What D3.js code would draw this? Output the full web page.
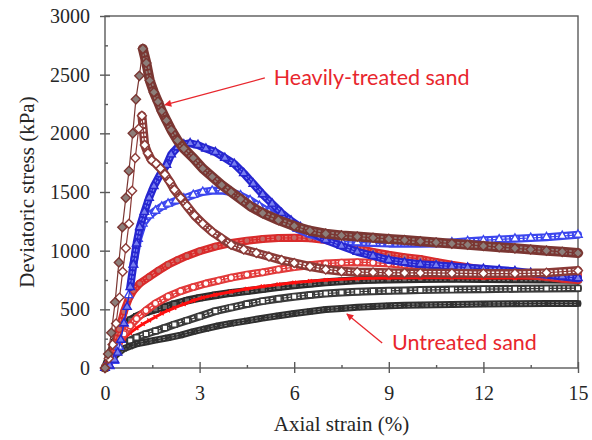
<!DOCTYPE html>
<html>
<head>
<meta charset="utf-8">
<script src="https://cdn.jsdelivr.net/npm/d3@7"></script>
<style>
  body { margin: 0; background: #fff; }
  svg { display: block; }
  .serif { font-family: "Liberation Serif", "DejaVu Serif", "Times New Roman", serif; }
</style>
</head>
<body>
<div id="chart"></div>
<script>
// Triaxial curves: deviatoric stress (kPa) vs axial strain (%)
var strainTicks = [0, 3, 6, 9, 12, 15];
var strainMinor = [1.5, 4.5, 7.5, 10.5, 13.5];
var stressTicks = [0, 500, 1000, 1500, 2000, 2500, 3000];
var stressMinor = [250, 750, 1250, 1750, 2250, 2750];

// [strain %, stress kPa]
var heavyFilled = [[0,0],[0.1,120],[0.2,300],[0.32,560],[0.44,900],[0.55,1200],[0.66,1450],[0.76,1680],[0.88,2000],[0.98,2290],[1.09,2490],[1.2,2720],[1.31,2600],[1.42,2450],[1.55,2350],[1.68,2270],[1.8,2190],[1.95,2110],[2.1,2030],[2.3,1940],[2.5,1870],[2.8,1790],[3.1,1700],[3.4,1630],[3.7,1560],[4.0,1500],[4.3,1440],[4.6,1380],[5.0,1320],[5.5,1260],[6.0,1210],[6.5,1170],[7.0,1145],[7.5,1130],[8.0,1120],[8.5,1110],[9.0,1100],[9.5,1090],[10,1080],[10.5,1070],[11,1060],[11.5,1050],[12,1040],[12.5,1030],[13,1020],[13.5,1010],[14,1000],[14.5,990],[15,980]];
var heavyOpen = [[0,0],[0.12,80],[0.24,200],[0.35,380],[0.46,600],[0.56,820],[0.66,1020],[0.76,1230],[0.86,1510],[0.96,1790],[1.07,2040],[1.17,2150],[1.26,1900],[1.36,1830],[1.48,1770],[1.62,1740],[1.76,1700],[1.9,1650],[2.05,1590],[2.2,1520],[2.4,1450],[2.6,1380],[2.84,1300],[3.1,1230],[3.4,1160],[3.7,1105],[4.0,1050],[4.4,1010],[4.8,980],[5.2,950],[5.6,920],[6.0,895],[6.5,865],[7.0,840],[7.5,825],[8.0,818],[8.5,815],[9,812],[9.5,810],[10,810],[11,808],[12,805],[13,805],[14,812],[15,830]];
var blueFilled = [[0,0],[0.15,20],[0.3,70],[0.4,130],[0.5,240],[0.6,380],[0.7,520],[0.8,690],[0.9,880],[1.0,1060],[1.1,1200],[1.25,1330],[1.4,1450],[1.55,1550],[1.75,1650],[1.95,1730],[2.1,1820],[2.3,1880],[2.5,1905],[2.7,1915],[2.95,1900],[3.2,1870],[3.5,1840],[3.8,1790],[4.1,1740],[4.4,1660],[4.7,1570],[5.0,1480],[5.3,1400],[5.6,1320],[5.9,1255],[6.2,1200],[6.6,1150],[7.0,1090],[7.5,1040],[8.0,990],[8.5,955],[9.0,920],[9.5,900],[10,885],[10.5,875],[11,865],[11.5,855],[12,845],[12.5,835],[13,825],[13.5,810],[14,795],[14.5,780],[15,765]];
var blueOpen = [[0,0],[0.15,15],[0.3,60],[0.45,180],[0.6,380],[0.75,620],[0.9,880],[1.05,1100],[1.2,1230],[1.4,1300],[1.6,1340],[1.8,1375],[2.0,1400],[2.25,1425],[2.5,1445],[2.8,1475],[3.1,1500],[3.4,1510],[3.7,1512],[4.0,1500],[4.3,1470],[4.6,1430],[4.9,1380],[5.2,1330],[5.5,1280],[5.8,1230],[6.1,1185],[6.5,1140],[7.0,1100],[7.5,1080],[8.0,1070],[8.5,1065],[9.0,1060],[9.5,1060],[10,1058],[10.5,1062],[11,1070],[11.5,1080],[12,1088],[12.5,1096],[13,1102],[13.5,1108],[14,1115],[14.5,1125],[15,1135]];
var redFilled = [[0,0],[0.15,60],[0.3,180],[0.45,330],[0.6,480],[0.75,590],[0.9,660],[1.1,720],[1.4,775],[1.7,830],[2.0,880],[2.3,920],[2.6,955],[3.0,995],[3.5,1035],[4.0,1065],[4.5,1085],[5.0,1100],[5.5,1108],[6.0,1110],[6.5,1105],[7.0,1090],[7.5,1060],[8.0,1020],[8.5,990],[9.0,965],[9.5,945],[10,930],[10.5,905],[11,880],[11.5,860],[12,840],[12.5,820],[13,805],[13.5,790],[14,775],[14.5,760],[15,750]];
var redOpen = [[0,0],[0.15,50],[0.3,130],[0.45,220],[0.6,290],[0.8,360],[1.0,420],[1.3,490],[1.6,550],[2.0,610],[2.4,655],[2.8,690],[3.2,720],[3.6,745],[4.0,770],[4.5,795],[5.0,815],[5.5,840],[6.0,860],[6.5,875],[7.0,890],[7.5,898],[8.0,902],[8.5,898],[9.0,890],[9.5,878],[10,865],[10.5,850],[11,838],[11.5,825],[12,815],[12.5,808],[13,802],[13.5,798],[14,795],[14.5,792],[15,790]];
var redCross = [[0,0],[0.2,80],[0.4,170],[0.6,250],[0.8,300],[1.0,340],[1.2,375],[1.4,405],[1.6,435],[1.8,465],[2.0,490],[2.2,513],[2.5,545],[2.8,575],[3.1,600],[3.5,625],[4,650],[4.5,675],[5,695],[5.5,712],[6,728],[6.5,740],[7,750],[8,762],[9,768],[10,770],[11,770],[12,768],[13,766],[14,764],[15,762]];
var blackFilled = [[0,0],[0.15,110],[0.3,220],[0.45,300],[0.6,360],[0.8,410],[1.0,440],[1.3,475],[1.6,500],[1.9,520],[2.2,545],[2.6,575],[3.0,598],[3.5,620],[4.0,640],[4.5,655],[5.0,672],[5.5,690],[6.0,705],[6.5,718],[7.0,730],[7.5,740],[8.0,748],[8.5,752],[9,755],[9.5,757],[10,758],[11,760],[12,758],[13,756],[14,754],[15,752]];
var blackOpen = [[0,0],[0.15,70],[0.3,130],[0.45,170],[0.6,200],[0.8,235],[1.0,260],[1.3,290],[1.6,315],[1.9,342],[2.2,370],[2.6,405],[3.0,440],[3.5,485],[4.0,515],[4.5,545],[5.0,570],[5.5,590],[6.0,608],[6.5,622],[7.0,635],[7.5,643],[8.0,650],[8.5,655],[9,658],[9.5,661],[10,664],[11,668],[12,672],[13,675],[14,678],[15,680]];
var blackCross = [[0,0],[0.15,50],[0.3,100],[0.45,135],[0.6,165],[0.8,185],[1.0,205],[1.3,222],[1.6,238],[2.0,258],[2.4,280],[2.8,310],[3.2,335],[3.6,360],[4.0,380],[4.5,402],[5.0,425],[5.5,445],[6.0,465],[6.5,482],[7.0,498],[7.5,508],[8.0,518],[8.5,525],[9,530],[9.5,534],[10,537],[11,541],[12,545],[13,548],[14,550],[15,550]];

var annotations = [
  { text: 'Heavily-treated sand', tail: [5.07, 2472], tip: [1.9, 2242], at: [5.35, 2410] },
  { text: 'Untreated sand', tail: [8.79, 213], tip: [7.67, 460], at: [9.1, 153] }
];

// drawing order: bottom first
var series = [
  { data: blackFilled, sym: 'square',   size: 30, stroke: '#2b2b2b', fill: '#6a6a6a', band: 8, inner: '#7a7a7a', bandFrom: 0 },
  { data: blackOpen,   sym: 'square',   size: 30, stroke: '#3a3a3a', fill: '#fff',    band: 8, inner: '#fff',    bandFrom: 0 },
  { data: blackCross,  sym: 'times',    size: 30, stroke: '#303030', fill: 'none',    band: 7, inner: '#8a8a8a', bandFrom: 0 },
  { data: redCross,    sym: 'times',    size: 14, stroke: '#ff1010', fill: 'none',    band: 3, inner: null,      bandFrom: 0 },
  { data: redOpen,     sym: 'circle',   size: 30, stroke: '#e23a3a', fill: '#fff',    band: 8, inner: '#fff',    bandFrom: 0 },
  { data: redFilled,   sym: 'circle',   size: 30, stroke: '#d92b2b', fill: '#c46a66', band: 8, inner: '#e07c78', bandFrom: 0 },
  { data: blueOpen,    sym: 'triangle', size: 30, stroke: '#3c46ee', fill: '#fff',    band: 8, inner: '#fff',    bandFrom: 0.8 },
  { data: blueFilled,  sym: 'triangle', size: 30, stroke: '#2626d0', fill: '#7a80f0', band: 8, inner: '#7f86f4', bandFrom: 0.8 },
  { data: heavyOpen,   sym: 'diamond',  size: 40, stroke: '#8b3a37', fill: '#fff',    band: 9, inner: '#fff',    bandFrom: 1.17 },
  { data: heavyFilled, sym: 'diamond',  size: 42, stroke: '#7a3632', fill: '#8c7e7a', band: 10, inner: '#94827e', bandFrom: 1.2 }
];

var width = 592, height = 440;
var x = d3.scaleLinear().domain([0, 15]).range([105, 578]);
var y = d3.scaleLinear().domain([0, 3000]).range([368, 16]);

var svg = d3.select('#chart').append('svg')
  .attr('width', width).attr('height', height);

var diamond = {
  draw: function(ctx, size) {
    var r = Math.sqrt(size / 2);
    ctx.moveTo(0, -r); ctx.lineTo(r, 0); ctx.lineTo(0, r); ctx.lineTo(-r, 0); ctx.closePath();
  }
};
var times = {
  draw: function(ctx, size) {
    var r = Math.sqrt(size) / 2;
    ctx.moveTo(-r, -r); ctx.lineTo(r, r); ctx.moveTo(r, -r); ctx.lineTo(-r, r);
  }
};
var symTypes = { square: d3.symbolSquare, circle: d3.symbolCircle, triangle: d3.symbolTriangle, diamond: diamond, times: times };

// frame + axes
var axisColor = '#5a5a5a';
svg.append('rect')
  .attr('x', x(0)).attr('y', y(3000))
  .attr('width', x(15) - x(0)).attr('height', y(0) - y(3000))
  .attr('fill', 'none').attr('stroke', axisColor).attr('stroke-width', 1.4);

var xAxis = svg.append('g')
  .attr('transform', 'translate(0,' + y(0) + ')')
  .call(d3.axisBottom(x).tickValues(strainTicks).tickSize(5).tickPadding(13).tickFormat(d3.format('d')));
xAxis.selectAll('.tick line').attr('y1', -6);

svg.append('g')
  .attr('transform', 'translate(0,' + y(0) + ')')
  .call(d3.axisBottom(x).tickValues(strainMinor).tickSize(-3).tickFormat(''));

var yAxis = svg.append('g')
  .attr('transform', 'translate(' + x(0) + ',0)')
  .call(d3.axisLeft(y).tickValues(stressTicks).tickSize(5).tickPadding(10).tickFormat(d3.format('d')));
yAxis.selectAll('.tick line').attr('x1', 5);

svg.append('g')
  .attr('transform', 'translate(' + x(0) + ',0)')
  .call(d3.axisLeft(y).tickValues(stressMinor).tickSize(-3).tickFormat(''));

svg.selectAll('.domain').remove();
svg.selectAll('.tick line').attr('stroke', axisColor).attr('stroke-width', 1.4);
svg.selectAll('.tick text')
  .attr('class', 'serif')
  .style('font-size', '20px').attr('fill', '#262626');
svg.selectAll('g').attr('font-family', null);

svg.append('text')
  .attr('class', 'serif')
  .attr('x', (x(0) + x(15)) / 2).attr('y', 431)
  .attr('text-anchor', 'middle')
  .style('font-size', '21px').attr('fill', '#262626')
  .text('Axial strain (%)');

svg.append('text')
  .attr('class', 'serif')
  .attr('transform', 'translate(34,' + ((y(0) + y(3000)) / 2) + ') rotate(-90)')
  .attr('text-anchor', 'middle')
  .style('font-size', '21px').attr('fill', '#262626')
  .text('Deviatoric stress (kPa)');

// curves
var line = d3.line().x(function(d) { return x(d[0]); }).y(function(d) { return y(d[1]); });

series.forEach(function(s) {
  var g = svg.append('g');
  var bandData = s.data.filter(function(d) { return d[0] >= s.bandFrom; });
  g.append('path').attr('d', line(bandData))
    .attr('fill', 'none').attr('stroke', s.stroke)
    .attr('stroke-width', s.band).attr('stroke-linejoin', 'round').attr('stroke-linecap', 'round');
  if (s.inner) {
    g.append('path').attr('d', line(bandData))
      .attr('fill', 'none').attr('stroke', s.inner)
      .attr('stroke-width', s.band * 0.45).attr('stroke-dasharray', '2.5 2');
  }
  g.append('path').attr('d', line(s.data))
    .attr('fill', 'none').attr('stroke', s.stroke).attr('stroke-width', 1.2);
  g.selectAll('path.mk').data(s.data).join('path')
    .attr('class', 'mk')
    .attr('transform', function(d) { return 'translate(' + x(d[0]) + ',' + y(d[1]) + ')'; })
    .attr('d', d3.symbol().type(symTypes[s.sym]).size(s.size))
    .attr('fill', s.fill).attr('stroke', s.stroke).attr('stroke-width', 1.4);
});

// annotations
var red = '#e8262d';
svg.append('defs').append('marker')
  .attr('id', 'arrow').attr('viewBox', '0 0 10 10')
  .attr('refX', 9).attr('refY', 5)
  .attr('markerWidth', 9).attr('markerHeight', 7)
  .attr('markerUnits', 'userSpaceOnUse').attr('orient', 'auto')
  .append('path').attr('d', 'M0,0 L10,5 L0,10 z').attr('fill', red);

annotations.forEach(function(a) {
  svg.append('line')
    .attr('x1', x(a.tail[0])).attr('y1', y(a.tail[1]))
    .attr('x2', x(a.tip[0])).attr('y2', y(a.tip[1]))
    .attr('stroke', red).attr('stroke-width', 1.3)
    .attr('marker-end', 'url(#arrow)');
  svg.append('text')
    .attr('x', x(a.at[0])).attr('y', y(a.at[1]))
    .style('font-family', 'Lato, "Open Sans", sans-serif')
    .style('font-size', '21.5px').attr('fill', red)
    .text(a.text);
});
</script>
</body>
</html>
